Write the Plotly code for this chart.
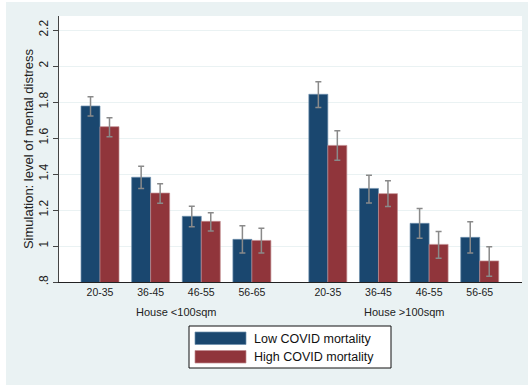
import plotly.graph_objects as go

# ---- data ----
age_groups = ["20-35", "36-45", "46-55", "56-65", "20-35", "36-45", "46-55", "56-65"]
x_pos = [0, 1, 2, 3, 4.5, 5.5, 6.5, 7.5]
house_labels = ["House <100sqm", "House >100sqm"]
house_centers = [1.5, 6.0]

low_mean = [1.778, 1.382, 1.165, 1.037, 1.843, 1.320, 1.126, 1.048]
low_hi = [1.830, 1.443, 1.221, 1.113, 1.913, 1.393, 1.209, 1.135]
low_lo = [1.722, 1.320, 1.107, 0.961, 1.770, 1.239, 1.043, 0.961]

high_mean = [1.663, 1.294, 1.137, 1.031, 1.559, 1.291, 1.009, 0.917]
high_hi = [1.713, 1.346, 1.185, 1.098, 1.641, 1.363, 1.080, 0.996]
high_lo = [1.607, 1.237, 1.083, 0.961, 1.476, 1.220, 0.932, 0.832]

series_names = ["Low COVID mortality", "High COVID mortality"]
y_ticks = [0.8, 1.0, 1.2, 1.4, 1.6, 1.8, 2.0, 2.2]
y_ticktext = [".8", "1", "1.2", "1.4", "1.6", "1.8", "2", "2.2"]

# ---- style ----
NAVY = "#1A476F"
MAROON = "#90353B"
BG = "#EAF2F3"
ERR = "#8a8a8a"
FONT = "Liberation Sans, Arial, sans-serif"

W, H = 528, 385
L, R, T, B = 59, 522, 16, 282  # plot area in pixels


def px_x(px):
    return (px - L) / (R - L)


def px_y(py):
    return (B - py) / (B - T)


fig = go.Figure()
for name, mean, hi, lo, col, edge in [
    (series_names[0], low_mean, low_hi, low_lo, NAVY, "#6f8fae"),
    (series_names[1], high_mean, high_hi, high_lo, MAROON, "#c08a8e"),
]:
    fig.add_trace(go.Bar(
        x=x_pos, y=mean, name=name,
        marker=dict(color=col, line=dict(color=edge, width=0.7)),
        error_y=dict(type="data", symmetric=False,
                     array=[h - m for h, m in zip(hi, mean)],
                     arrayminus=[m - l for m, l in zip(mean, lo)],
                     color=ERR, thickness=1.5, width=3),
        showlegend=False,
    ))

fig.update_layout(
    width=W, height=H,
    margin=dict(l=L, r=W - R, t=T, b=H - B, pad=0),
    paper_bgcolor=BG, plot_bgcolor="white",
    barmode="group", bargap=0.25, bargroupgap=0,
    font=dict(family=FONT, color="#222222"),
)
fig.update_xaxes(
    range=[-0.81, 8.335], tickvals=x_pos, ticktext=age_groups,
    tickfont=dict(size=10.5, color="#222"), ticks="", showgrid=False,
    showline=True, linecolor="#222", linewidth=1, zeroline=False,
)
fig.update_yaxes(
    range=[0.8, 2.278], tickvals=y_ticks, ticktext=y_ticktext,
    tickangle=-90, tickfont=dict(size=12, color="#222"),
    ticks="outside", ticklen=5, tickcolor="#444", tickwidth=1,
    showgrid=True, gridcolor=BG, gridwidth=1,
    showline=True, linecolor="#444", linewidth=1, zeroline=False,
    title=dict(text="Simulation: level of mental distress",
               font=dict(size=13, color="#222"), standoff=0),
)

shapes = []
annotations = []
# white outer border strips
shapes.append(dict(type="rect", xref="paper", yref="paper", layer="above",
                   x0=px_x(0), x1=px_x(6), y0=px_y(H + 5), y1=px_y(-5),
                   fillcolor="white", line=dict(width=0)))
shapes.append(dict(type="rect", xref="paper", yref="paper", layer="above",
                   x0=px_x(0), x1=px_x(W + 5), y0=px_y(2), y1=px_y(-5),
                   fillcolor="white", line=dict(width=0)))

# group labels
for lab, cx in zip(house_labels, house_centers):
    annotations.append(dict(text=lab, x=cx, xref="x", y=px_y(312), yref="paper",
                            showarrow=False, font=dict(size=11, color="#222"),
                            xanchor="center", yanchor="middle"))

# legend box
shapes.append(dict(type="rect", xref="paper", yref="paper",
                   x0=px_x(189), x1=px_x(391), y0=px_y(368), y1=px_y(326),
                   fillcolor="white", line=dict(color="#111", width=1)))
for i, (name, col, edge) in enumerate([(series_names[0], NAVY, "#6f8fae"),
                                       (series_names[1], MAROON, "#c08a8e")]):
    y0 = 332 + i * 18.5
    shapes.append(dict(type="rect", xref="paper", yref="paper",
                       x0=px_x(195), x1=px_x(246), y0=px_y(y0 + 12.5), y1=px_y(y0),
                       fillcolor=col, line=dict(color=edge, width=0.7)))
    annotations.append(dict(text=name, x=px_x(252), xref="paper",
                            y=px_y(y0 + 6.5), yref="paper", showarrow=False,
                            xanchor="left", yanchor="middle",
                            font=dict(size=12.5, color="#111")))

fig.update_layout(shapes=shapes, annotations=annotations)
fig.write_html("out.html")
